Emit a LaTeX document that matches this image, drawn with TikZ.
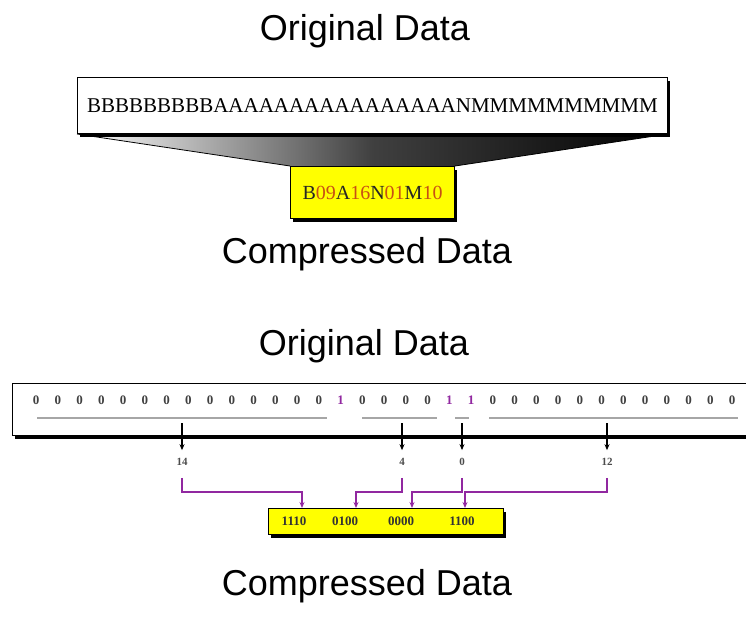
\documentclass[tikz,border=0pt]{standalone}
\usepackage{fontspec}
\setmainfont{Liberation Serif}
\newfontfamily\arialf{Liberation Sans}
\usetikzlibrary{arrows.meta,shadows,backgrounds,calc}
\definecolor{purp}{RGB}{145,40,160}
\definecolor{digred}{RGB}{200,80,20}
\definecolor{yel}{RGB}{255,255,0}
\begin{document}
\begin{tikzpicture}[x=1pt,y=-1pt,
  title/.style={font=\arialf\fontsize{36}{40}\selectfont, inner sep=0pt},
  sbox/.style={draw=black, line width=1pt, drop shadow={fill=black, opacity=1, shadow xshift=2.5pt, shadow yshift=-3pt}, inner sep=0pt, anchor=north west},
  whitebox/.style={sbox, fill=white},
  yelbox/.style={sbox, fill=yel},
  bit/.style={font=\bfseries\fontsize{13}{13}\selectfont, text=black!75, inner sep=0pt},
  onebit/.style={bit, text=purp},
  uline/.style={draw=black!35, line width=1.5pt},
  lbl/.style={font=\bfseries\fontsize{11}{11}\selectfont, text=black!70, inner sep=3pt},
  darr/.style={-{Stealth[length=6pt,width=5pt]}, line width=1.3pt, shorten >=5pt},
  parr/.style={-{Stealth[length=6pt,width=5pt]}, line width=1.3pt, draw=purp, shorten <=9pt},
  cbits/.style={font=\bfseries\fontsize{13}{13}\selectfont, text=black!80, inner sep=0pt}
]
\useasboundingbox (0,0) rectangle (746,619);
\clip (0,0) rectangle (746,619);

% titles
\node[title] (t1) at (365,31) {Original Data};
\node[title] (t2) at (367,254) {Compressed Data};
\node[title] (t3) at (364,346) {Original Data};
\node[title] (t4) at (367,586) {Compressed Data};

% top part
\node[whitebox, minimum width=590pt, minimum height=56pt] (topbox) at (77,77)
  {\fontsize{21}{21}\selectfont BBBBBBBBBAAAAAAAAAAAAAAAANMMMMMMMMMM};
\node[yelbox, minimum width=164pt, minimum height=52pt] (ybox) at (290,166)
  {\fontsize{20}{20}\selectfont\color{black!85}B{\color{digred}09}A{\color{digred}16}N{\color{digred}01}M{\color{digred}10}};
\begin{scope}[on background layer]
  \shade[left color=white, right color=black, middle color=black!75]
    (topbox.south west) -- (topbox.south east) -- (ybox.north east) -- (ybox.north west) -- cycle;
  \draw[line width=0.8pt] (topbox.south west) -- (ybox.north west);
  \draw[line width=0.8pt] (topbox.south east) -- (ybox.north east);
\end{scope}

% bottom part
\node[whitebox, minimum width=760pt, minimum height=52pt] (bar) at (12,383) {};
\foreach \d [count=\k from 0] in {0,0,0,0,0,0,0,0,0,0,0,0,0,0,1,0,0,0,0,1,1,0,0,0,0,0,0,0,0,0,0,0,0}{
  \ifnum\d=1
    \node[onebit] (bit\k) at ({36+21.75*\k},400) {1};
  \else
    \node[bit] (bit\k) at ({36+21.75*\k},400) {0};
  \fi
}
\draw[uline] (37,418) -- (327,418);
\draw[uline] (362,418) -- (437,418);
\draw[uline] (455,418) -- (469,418);
\draw[uline] (489,418) -- (738,418);

\coordinate (s14) at (182,423);
\coordinate (s4) at (402,423);
\coordinate (s0) at (462,423);
\coordinate (s12) at (607,423);
\node[lbl] (l14) at (182,462) {14};
\node[lbl] (l4) at (402,462) {4};
\node[lbl] (l0) at (462,462) {0};
\node[lbl] (l12) at (607,462) {12};
\draw[darr] (s14) -- (l14);
\draw[darr] (s4) -- (l4);
\draw[darr] (s0) -- (l0);
\draw[darr] (s12) -- (l12);

\node[yelbox, minimum width=235pt, minimum height=26pt] (cbox) at (268,508) {};
\node[cbits] (g1) at (294,521) {1110};
\node[cbits] (g2) at (345,521) {0100};
\node[cbits] (g3) at (401,521) {0000};
\node[cbits] (g4) at (462,521) {1100};

\coordinate (lev) at (0,492);
\coordinate (q1) at (302,508);
\coordinate (q2) at (356,508);
\coordinate (q3) at (412,508);
\coordinate (q4) at (465,508);
\draw[parr] (l14.south) |- (q1 |- lev) -- (q1);
\draw[parr] (l4.south) |- (q2 |- lev) -- (q2);
\draw[parr] (l0.south) |- (q3 |- lev) -- (q3);
\draw[parr] (l12.south) |- (q4 |- lev) -- (q4);
\end{tikzpicture}
\end{document}
